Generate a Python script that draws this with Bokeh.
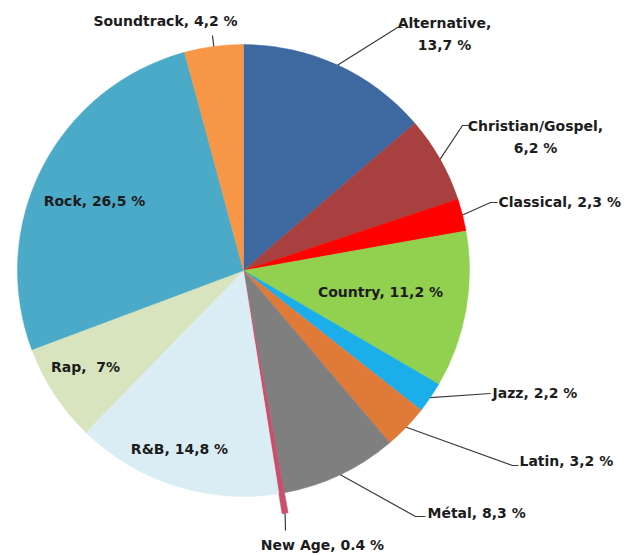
import numpy as np
from bokeh.plotting import figure
from bokeh.models import Range1d, ColumnDataSource
from bokeh.core.properties import value
from bokeh.embed import file_html
from bokeh.resources import INLINE

# ---- data (clockwise from 12 o'clock) ----
genres = ["Alternative", "Christian/Gospel", "Classical", "Country", "Jazz", "Latin",
          "Métal", "New Age", "R&B", "Rap", "Rock", "Soundtrack"]
shares = [13.7, 6.2, 2.3, 11.2, 2.2, 3.2, 8.3, 0.4, 14.8, 7.0, 26.5, 4.2]
labels = ["Alternative,\n13,7 %", "Christian/Gospel,\n6,2 %", "Classical, 2,3 %",
          "Country, 11,2 %", "Jazz, 2,2 %", "Latin, 3,2 %", "Métal, 8,3 %",
          "New Age, 0.4 %", "R&B, 14,8 %", "Rap, \u00a07%", "Rock, 26,5 %",
          "Soundtrack, 4,2 %"]
colors = ["#3D69A0", "#A7403E", "#FF0000", "#92D050", "#1BAEEA", "#E07A38",
          "#7F7F7F", "#C8506A", "#DAEDF4", "#D8E4BE", "#4AAAC8", "#F79646"]

W, H = 630, 556
CX, CY = 243, H - 270   # pie centre (pixels)
R = 226

def Y(y):  # image-style y to plot y
    return H - y

vals = np.array(shares, dtype=float)
cum = np.cumsum(vals)
frac_end = cum / vals.sum()
frac_start = frac_end - vals / vals.sum()
start = np.pi / 2 - 2 * np.pi * frac_end
end = np.pi / 2 - 2 * np.pi * frac_start
mid = (start + end) / 2
radius = np.full(len(vals), float(R))
radius[genres.index("New Age")] = R * 1.09  # the protruding sliver

p = figure(width=W, height=H, x_range=Range1d(0, W), y_range=Range1d(0, H),
           output_backend="svg", toolbar_location=None, min_border=0)
p.axis.visible = False
p.grid.visible = False
p.outline_line_color = None
p.background_fill_color = "white"
p.border_fill_color = "white"

src = ColumnDataSource(dict(start=start, end=end, color=colors, r=radius,
                            x=[CX] * len(vals), y=[CY] * len(vals)))
p.wedge(x="x", y="y", radius="r", start_angle="start", end_angle="end",
        fill_color="color", line_color="color", line_width=0.5, source=src)

FONT = value("DejaVu Sans")
FS = "14px"
TC = "#1c1c1c"

def edge(name, rr=None):
    i = genres.index(name)
    rr = radius[i] if rr is None else rr
    return CX + rr * np.cos(mid[i]), CY + rr * np.sin(mid[i])

# inside labels: (genre, x, y_img)
inside = {"Country": (380, 291), "R&B": (179, 448), "Rap": (85, 366), "Rock": (94, 200)}
for g, (x, y) in inside.items():
    p.text(x=[x], y=[Y(y)], text=[labels[genres.index(g)]], text_font=FONT,
           text_font_size=FS, text_font_style="bold", text_color=TC,
           text_align="center", text_baseline="middle")

# outside labels with leader lines: elbow points (image coords), text anchor, align
outside = {
    "Alternative": ([(397, 27), (402, 27)], (444, 22), "center"),
    "Christian/Gospel": ([(462, 125), (468, 125)], (535, 125), "center"),
    "Classical": ([(490, 202), (497, 202)], (498, 201), "left"),
    "Jazz": ([(490, 393)], (492, 392), "left"),
    "Latin": ([(512, 465), (518, 465)], (519, 460), "left"),
    "Métal": ([(415, 516), (425, 516)], (427, 512), "left"),
    "New Age": ([(285, 530)], (322, 544), "center"),
    "Soundtrack": ([(212, 35)], (165, 20), "center"),
}
for g, (pts, (tx, ty), align) in outside.items():
    ex, ey = edge(g)
    xs = [ex] + [q[0] for q in pts]
    ys = [ey] + [Y(q[1]) for q in pts]
    p.line(xs, ys, line_color="#3a3a3a", line_width=1.2)
    lines = labels[genres.index(g)].split("\n")
    for k, t in enumerate(lines):
        p.text(x=[tx], y=[Y(ty + 22 * k)], text=[t], text_font=FONT,
               text_font_size=FS, text_font_style="bold", text_color=TC,
               text_align=align, text_baseline="middle")

open("out.html", "w").write(file_html(p, INLINE))
